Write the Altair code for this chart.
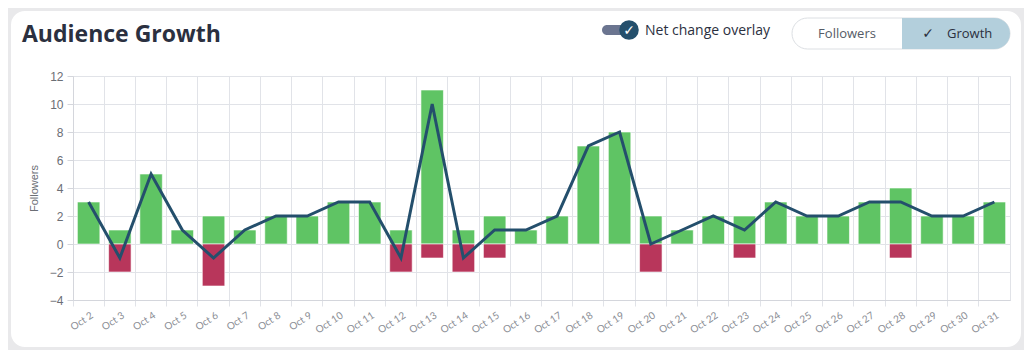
import altair as alt
import pandas as pd

days = ["Oct 2", "Oct 3", "Oct 4", "Oct 5", "Oct 6", "Oct 7", "Oct 8", "Oct 9", "Oct 10",
        "Oct 11", "Oct 12", "Oct 13", "Oct 14", "Oct 15", "Oct 16", "Oct 17", "Oct 18",
        "Oct 19", "Oct 20", "Oct 21", "Oct 22", "Oct 23", "Oct 24", "Oct 25", "Oct 26",
        "Oct 27", "Oct 28", "Oct 29", "Oct 30", "Oct 31"]
gained = [3, 1, 5, 1, 2, 1, 2, 2, 3, 3, 1, 11, 1, 2, 1, 2, 7, 8, 2, 1, 2, 2, 3, 2, 2, 3, 4, 2, 2, 3]
lost = [0, -2, 0, 0, -3, 0, 0, 0, 0, 0, -2, -1, -2, -1, 0, 0, 0, 0, -2, 0, 0, -1, 0, 0, 0, 0, -1, 0, 0, 0]
net = [3, -1, 5, 1, -1, 1, 2, 2, 3, 3, -1, 10, -1, 1, 1, 2, 7, 8, 0, 1, 2, 1, 3, 2, 2, 3, 3, 2, 2, 3]
y_ticks = [-4, -2, 0, 2, 4, 6, 8, 10, 12]

GREEN = "#5fc464"
RED = "#b8365b"
NAVY = "#244f6c"
GRID = "#e1e3e8"
TEXT = "#2b3040"
FONT = "Open Sans"

bars_df = pd.DataFrame({
    "day": days + days,
    "value": gained + lost,
    "kind": ["Gained"] * len(days) + ["Lost"] * len(days),
})
bars_df = bars_df[bars_df["value"] != 0]
line_df = pd.DataFrame({"day": days, "net": net})
one = pd.DataFrame({"k": [0]})

x_scale = alt.Scale(paddingInner=0.28, paddingOuter=0.14)
y_scale = alt.Scale(domain=[-4, 12], nice=False)


def x_axis():
    return alt.Axis(
        title=None, grid=True, gridColor=GRID, bandPosition=-0.194,
        labelAngle=-33, labelAlign="right", labelBaseline="top", labelOffset=1,
        labelFontSize=10, labelColor="#8a8d94", labelFont="Lato", labelPadding=4,
        tickSize=6, tickColor=GRID, domainColor="#d4d6dc",
    )


def y_axis():
    return alt.Axis(
        title="Followers", values=y_ticks, grid=True, gridColor=GRID,
        labelFontSize=12, labelColor="#6b6e75", labelFont="Liberation Sans", labelPadding=4,
        tickSize=6, tickColor="#d4d6dc", domainColor="#d4d6dc",
        titleFontSize=11, titleFontWeight="normal", titleColor="#6b6e75",
        titleFont="Liberation Sans", titlePadding=10,
    )


bars = alt.Chart(bars_df).mark_bar(stroke="white", strokeWidth=1, strokeOpacity=0.6).encode(
    x=alt.X("day:N", sort=days, scale=x_scale, axis=x_axis()),
    y=alt.Y("value:Q", scale=y_scale, axis=y_axis()),
    color=alt.Color("kind:N", scale=alt.Scale(domain=["Gained", "Lost"], range=[GREEN, RED]), legend=None),
)

line = alt.Chart(line_df).mark_line(color=NAVY, strokeWidth=3, strokeJoin="miter").encode(
    x=alt.X("day:N", sort=days, scale=x_scale, axis=x_axis()),
    y=alt.Y("net:Q", scale=y_scale, axis=y_axis()),
)

# card frame (gray surround)
frame = alt.Chart(one).mark_rect(fillOpacity=0, stroke="#e9e9eb", strokeWidth=30, cornerRadius=29).encode(
    x=alt.value(-77), x2=alt.value(963), y=alt.value(-80), y2=alt.value(286)
)

title = alt.Chart(one).mark_text(
    text="Audience Growth", font=FONT, fontSize=23, fontWeight="bold", color=TEXT,
    align="left", baseline="alphabetic"
).encode(x=alt.value(-51), y=alt.value(-34))

track = alt.Chart(one).mark_rect(fill="#6b7590", cornerRadius=5).encode(
    x=alt.value(529), x2=alt.value(555), y=alt.value(-51), y2=alt.value(-41)
)
knob = alt.Chart(one).mark_point(filled=True, shape="circle", size=380, color=NAVY, opacity=1).encode(
    x=alt.value(556), y=alt.value(-46)
)
knob_check = alt.Chart(one).mark_text(
    text="✓", font="DejaVu Sans", fontSize=14, fontWeight="bold", color="white",
    align="center", baseline="middle"
).encode(x=alt.value(556), y=alt.value(-45))
toggle_label = alt.Chart(one).mark_text(
    text="Net change overlay", font=FONT, fontSize=14, color=TEXT,
    align="left", baseline="middle"
).encode(x=alt.value(572), y=alt.value(-45))

pill = alt.Chart(one).mark_rect(fill="white", stroke="#dcdfe3", strokeWidth=1, cornerRadius=15.5).encode(
    x=alt.value(719), x2=alt.value(937), y=alt.value(-58), y2=alt.value(-27)
)
pill_sel = alt.Chart(one).mark_rect(
    fill="#b3cfdc", cornerRadiusTopRight=15.5, cornerRadiusBottomRight=15.5
).encode(x=alt.value(829), x2=alt.value(937), y=alt.value(-58), y2=alt.value(-27))
btn1 = alt.Chart(one).mark_text(
    text="Followers", font=FONT, fontSize=13, color="#555b66", align="center", baseline="middle"
).encode(x=alt.value(774), y=alt.value(-42))
btn_check = alt.Chart(one).mark_text(
    text="✓", font="DejaVu Sans", fontSize=14, color=TEXT, align="center", baseline="middle"
).encode(x=alt.value(855), y=alt.value(-42))
btn2 = alt.Chart(one).mark_text(
    text="Growth", font=FONT, fontSize=13, color=TEXT, align="left", baseline="middle"
).encode(x=alt.value(874), y=alt.value(-42))

chart = alt.layer(
    bars, line, frame, title, track, knob, knob_check, toggle_label,
    pill, pill_sel, btn1, btn_check, btn2
).properties(
    width=937, height=224,
    autosize=alt.AutoSizeParams(type="none"),
    padding={"left": 65, "top": 68, "right": 14, "bottom": 50},
    background="white",
).configure_view(stroke=GRID, strokeWidth=1)

chart.save("out.html", embed_options={"renderer": "svg", "actions": False})
